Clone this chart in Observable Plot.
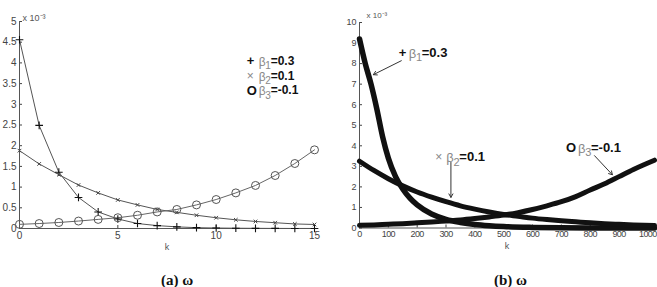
<!DOCTYPE html>
<html><head><meta charset="utf-8">
<script src="https://cdn.jsdelivr.net/npm/d3@7"></script>
<script src="https://cdn.jsdelivr.net/npm/@observablehq/plot@0.6"></script>
<style>
body{margin:0;background:#fff;}
#wrap{position:relative;width:657px;height:287px;overflow:hidden;background:#fff;}
#a{position:absolute;left:0;top:0}
#b{position:absolute;left:330px;top:0}
#b g[aria-label="x-axis tick label"] text{letter-spacing:-0.6px;}
.cap{position:absolute;top:272px;font:bold 15px "Liberation Serif","Times New Roman",serif;color:#111;}
</style></head><body>
<div id="wrap"><div id="a"></div><div id="b"></div>
<div class="cap" style="left:161px">(a) ω</div><div class="cap" style="left:494px">(b) ω</div></div>
<script>
// ---------- panel (a) data (values in units of 1e-3) ----------
const kA  = [0,1,2,3,4,5,6,7,8,9,10,11,12,13,14,15];
const b1A = [4.56,2.49,1.36,0.75,0.40,0.23,0.12,0.07,0.04,0.02,0.012,0.007,0.004,0.002,0.001,0.001];
const b2A = [1.88,1.56,1.30,1.05,0.86,0.69,0.57,0.46,0.39,0.32,0.26,0.21,0.17,0.14,0.11,0.097];
const b3A = [0.10,0.12,0.145,0.18,0.22,0.26,0.32,0.40,0.46,0.57,0.70,0.86,1.04,1.28,1.57,1.90];
const xTicksA = [0,5,10,15];
const yTicksA = [0,0.5,1,1.5,2,2.5,3,3.5,4,4.5,5];

// ---------- panel (b) data ----------
const kB1 = [0,20,40,60,80,100,125,150,175,200,250,300,350,400,450,500,600,700,800,900,1023];
const b1B = [9.2,8.0,7.0,5.8,4.45,3.4,2.5,1.9,1.45,1.12,0.68,0.42,0.27,0.17,0.11,0.07,0.03,0.012,0.005,0.002,0.001];
const kB  = [0,50,100,150,200,250,300,350,400,450,500,550,600,650,700,750,800,850,900,950,1023];
const b2B = [3.25,2.8,2.4,2.05,1.75,1.5,1.28,1.08,0.92,0.78,0.66,0.57,0.48,0.41,0.35,0.3,0.25,0.21,0.18,0.15,0.12];
const b3B = [0.13,0.15,0.18,0.21,0.25,0.29,0.34,0.39,0.46,0.54,0.63,0.75,0.9,1.08,1.28,1.53,1.85,2.15,2.5,2.85,3.3];
const xTicksB = [0,100,200,300,400,500,600,700,800,900,1000];
const yTicksB = [0,1,2,3,4,5,6,7,8,9,10];

// ---------- labels ----------
const symbols = ["+","×","O"];
const betas   = ["β","β","β"];
const subs    = ["1","2","3"];
const vals    = ["=0.3","=0.1","=-0.1"];
const scaleLabel = "x 10⁻³";
const xLabel = "k";

// legend anchor (panel a, data units)
const legK = [11.55,11.55,11.55];
const legV = [4.05,3.69,3.33];
// annotations (panel b, data units)
const annK = [136,263,716];
const annV = [8.53,3.44,3.92];
const arrK1 = [145,317,815], arrV1 = [8.14,3.19,3.52];
const arrK2 = [48,317,877],  arrV2 = [7.46,1.49,2.59];

const idx3 = [0,1,2];
const font = "'Liberation Sans', Arial, sans-serif";
const fmt = d => String(d);
const axisStyle = {fontFamily: font, fontSize: "10px", color: "#444", background: "white", overflow: "visible"};

function labelMarks(xs, ys, symSize, txtSize, betaDx, valDx) {
  return idx3.flatMap(i => [
    Plot.text([i], {x: () => xs[i], y: () => ys[i], text: () => symbols[i], textAnchor: "start",
      fontSize: i === 1 ? symSize - 1 : symSize, fontWeight: i === 1 ? "normal" : "bold",
      fill: i === 1 ? "#888" : "#111", fontFamily: font}),
    Plot.text([i], {x: () => xs[i], y: () => ys[i], text: () => betas[i], textAnchor: "start",
      dx: betaDx[i], dy: 1, fontSize: txtSize, fill: "#888", fontFamily: font}),
    Plot.text([i], {x: () => xs[i], y: () => ys[i], text: () => subs[i], textAnchor: "start",
      dx: betaDx[i] + txtSize * 0.56, dy: 5, fontSize: txtSize - 2, fill: "#888", fontFamily: font}),
    Plot.text([i], {x: () => xs[i], y: () => ys[i], text: () => vals[i], textAnchor: "start",
      dx: valDx[i], fontSize: txtSize, fontWeight: "bold", fill: "#111", fontFamily: font})
  ]);
}

// ---------- panel (a) ----------
const plotA = Plot.plot({
  width: 330, height: 260,
  marginLeft: 19, marginRight: 16, marginTop: 21, marginBottom: 32,
  style: axisStyle,
  x: {domain: [0,15], ticks: xTicksA, tickFormat: fmt, tickSize: -3, tickPadding: 6, label: null},
  y: {domain: [0,5], ticks: yTicksA, tickFormat: fmt, tickSize: -3, tickPadding: 6, label: null},
  marks: [
    Plot.ruleX([0], {stroke: "#555"}),
    Plot.ruleY([0], {stroke: "#555"}),
    Plot.line(kA, {x: kA, y: b1A, stroke: "#555", strokeWidth: 1}),
    Plot.line(kA, {x: kA, y: b2A, stroke: "#555", strokeWidth: 1}),
    Plot.line(kA, {x: kA, y: b3A, stroke: "#666", strokeWidth: 1}),
    Plot.dot(kA, {x: kA, y: b1A, symbol: "plus", r: 2.6, stroke: "#111", strokeWidth: 1.1}),
    Plot.dot(kA, {x: kA, y: b2A, symbol: "times", r: 1.8, stroke: "#444", strokeWidth: 1}),
    Plot.dot(kA, {x: kA, y: b3A, symbol: "circle", r: 4, stroke: "#555", fill: "none", strokeWidth: 1}),
    ...labelMarks(legK, legV, 13, 12, [12,12,12], [24,24,24]),
    Plot.text([scaleLabel], {frameAnchor: "top-left", dx: 3, dy: -7, textAnchor: "start", fontSize: 9, fill: "#555", fontFamily: font}),
    Plot.text([xLabel], {frameAnchor: "bottom", dy: 21, fontSize: 9, fill: "#555", fontFamily: font})
  ]
});
document.getElementById("a").append(plotA);

// ---------- panel (b) ----------
const plotB = Plot.plot({
  width: 327, height: 260,
  marginLeft: 29, marginRight: 3, marginTop: 22, marginBottom: 32.5,
  style: {...axisStyle, fontSize: "9px"},
  x: {domain: [0,1023], ticks: xTicksB, tickFormat: fmt, tickSize: -3, tickPadding: 6, label: null},
  y: {domain: [0,10], ticks: yTicksB, tickFormat: fmt, tickSize: -3, tickPadding: 6, label: null},
  marks: [
    Plot.ruleX([0], {stroke: "#555"}),
    Plot.ruleY([0], {stroke: "#555"}),
    Plot.line(kB1, {x: kB1, y: b1B, stroke: "#111", strokeWidth: 5.5, curve: "monotone-x"}),
    Plot.line(kB, {x: kB, y: b2B, stroke: "#111", strokeWidth: 5, curve: "monotone-x"}),
    Plot.line(kB, {x: kB, y: b3B, stroke: "#111", strokeWidth: 5, curve: "monotone-x"}),
    Plot.arrow(idx3, {x1: i => arrK1[i], y1: i => arrV1[i], x2: i => arrK2[i], y2: i => arrV2[i], stroke: "#333", strokeWidth: 1, headLength: 6}),
    ...labelMarks(annK, annV, 13, 13, [10,11,12], [23,24,25]),
    Plot.text([scaleLabel], {frameAnchor: "top-left", dx: 7, dy: -10, textAnchor: "start", fontSize: 8, fill: "#555", fontFamily: font}),
    Plot.text([xLabel], {frameAnchor: "bottom", dy: 21, fontSize: 9, fill: "#555", fontFamily: font})
  ]
});
document.getElementById("b").append(plotB);
</script>
</body></html>
